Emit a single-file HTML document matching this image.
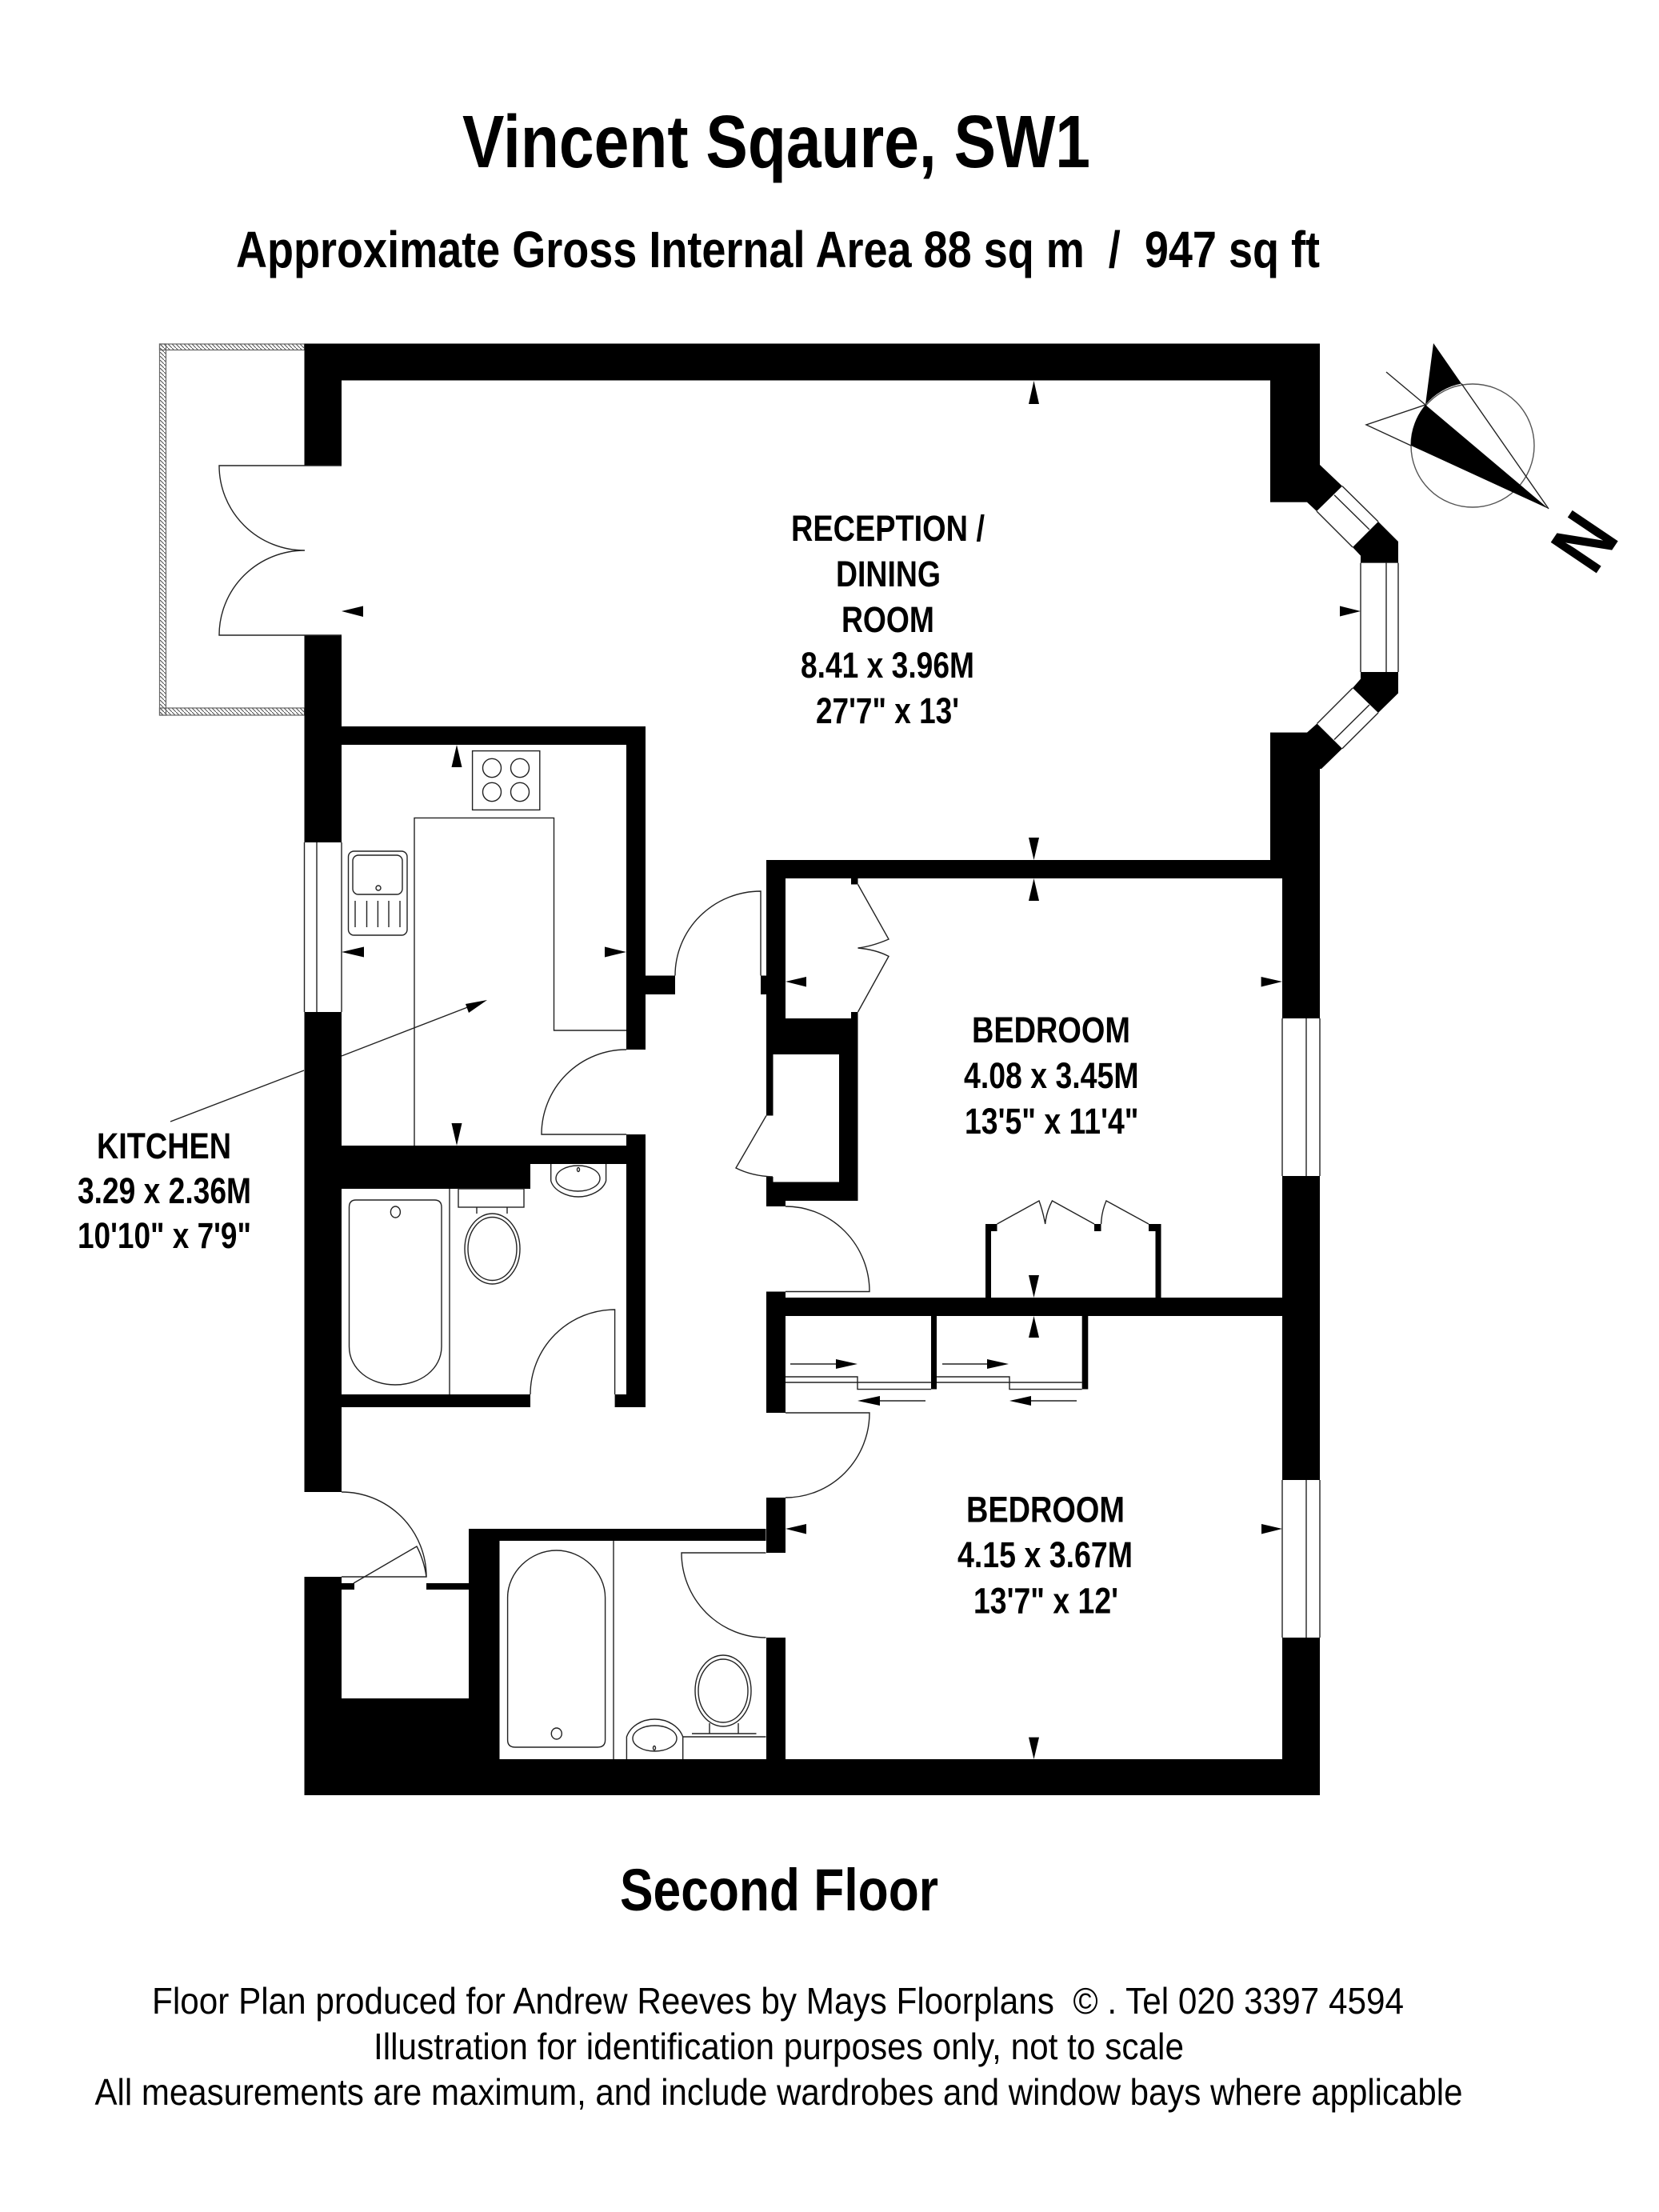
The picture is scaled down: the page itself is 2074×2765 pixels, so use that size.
<!DOCTYPE html>
<html><head><meta charset="utf-8"><title>Vincent Sqaure, SW1</title>
<style>html,body{margin:0;padding:0;background:#fff}svg{display:block}
text{font-family:"Liberation Sans",Arial,sans-serif;fill:#000}
.b{font-weight:700}
.l{fill:none;stroke:#222;stroke-width:1.4}
.g{fill:#fff;stroke:#333;stroke-width:1.3}
</style></head><body>
<svg xmlns="http://www.w3.org/2000/svg" width="2074" height="2765" viewBox="0 0 2074 2765">
<defs><pattern id="h" width="5" height="5" patternUnits="userSpaceOnUse"><path d="M-1 -1L6 6" stroke="#555" stroke-width="1.1"/></pattern></defs>
<rect width="2074" height="2765" fill="#fff"/>

<!-- headings -->
<text class="b" x="578" y="209" font-size="93" textLength="785" lengthAdjust="spacingAndGlyphs">Vincent Sqaure, SW1</text>
<text class="b" x="295" y="334" font-size="64" textLength="1355" lengthAdjust="spacingAndGlyphs" xml:space="preserve">Approximate Gross Internal Area 88 sq m  /  947 sq ft</text>

<!-- balcony -->
<g fill="url(#h)" stroke="#666" stroke-width="1.2">
<rect x="199.500" y="430" width="181" height="7.500"/>
<rect x="199.500" y="885" width="181" height="9"/>
<rect x="199.500" y="430" width="8" height="464"/>
</g>

<!-- walls -->
<g fill="#000">
<rect x="380.500" y="429.500" width="1269.500" height="46"/>
<rect x="380.500" y="429.500" width="46.500" height="152.500"/>
<rect x="380.500" y="794" width="46.500" height="259"/>
<rect x="380.500" y="1265" width="46.500" height="600"/>
<rect x="380.500" y="1971" width="46.500" height="273"/>
<rect x="380.500" y="908" width="426.500" height="23"/>
<rect x="783" y="908" width="24" height="404"/>
<rect x="783" y="1418" width="24" height="341"/>
<rect x="427" y="1432" width="356" height="23"/>
<rect x="427" y="1455" width="236" height="31"/>
<rect x="427" y="1743" width="236" height="16"/>
<rect x="768.600" y="1743" width="38.400" height="16"/>
<rect x="807" y="1219.500" width="37" height="23.500"/>
<rect x="951" y="1219.500" width="7" height="23.500"/>
<!-- bay -->
<rect x="1588" y="429.500" width="62" height="198.200"/>
<polygon points="1634,627.700 1646,639 1678,607.600 1650,581 1640,590"/>
<polygon points="1691,684 1701,694.600 1701,703.600 1748,703.600 1748,677 1723,652"/>
<polygon points="1701,840 1748,840 1748,866.500 1723,891 1691,860 1701,848.600"/>
<polygon points="1634,915.600 1646.500,904.500 1678,935.700 1652,961 1650,961 1640,940"/>
<rect x="1588" y="915.600" width="62" height="182.400"/>
<!-- right wall -->
<rect x="1603" y="1075" width="47" height="198"/>
<rect x="1603" y="1470" width="47" height="380"/>
<rect x="1603" y="2047" width="47" height="197"/>
<!-- bedroom top -->
<rect x="958" y="1075" width="645" height="23"/>
<rect x="958" y="1075" width="24" height="198"/>
<rect x="958" y="1273" width="114.500" height="45"/>
<rect x="958" y="1318" width="8.500" height="76.500"/>
<rect x="1049" y="1273" width="23.500" height="228"/>
<rect x="958" y="1477.500" width="114.500" height="23.500"/>
<rect x="958" y="1471" width="8.500" height="8"/>
<rect x="958" y="1500" width="24" height="8"/>
<rect x="1064" y="1098" width="8.500" height="7.500"/>
<rect x="1064" y="1265" width="8.500" height="8"/>
<!-- between bedrooms -->
<rect x="958" y="1622" width="645" height="23"/>
<rect x="958" y="1614.500" width="24" height="151.500"/>
<rect x="958" y="1872" width="24" height="69"/>
<rect x="958" y="2047" width="24" height="197"/>
<!-- wardrobes -->
<rect x="1232" y="1530" width="7" height="92"/>
<rect x="1232" y="1530" width="14.500" height="9"/>
<rect x="1444.500" y="1530" width="7" height="92"/>
<rect x="1436" y="1530" width="15.500" height="9"/>
<rect x="1368" y="1530" width="8.500" height="9"/>
<rect x="1164" y="1645" width="7" height="91.500"/>
<rect x="1352.700" y="1645" width="7.600" height="91.500"/>
<!-- lower -->
<rect x="586" y="1911" width="371.500" height="15"/>
<rect x="586" y="1911" width="38.500" height="333"/>
<rect x="533" y="1979" width="53" height="8"/>
<rect x="427" y="1979" width="16" height="8"/>
<rect x="380.500" y="2123" width="244" height="121"/>
<rect x="380.500" y="2199" width="1269.500" height="45"/>
</g>

<!-- windows -->
<g class="l" fill="none">
<path class="l" d="M380.500 1053V1265M396 1053V1265M427 1053V1265"/>
<path class="l" d="M1603 1273V1470M1633 1273V1470M1650 1273V1470"/>
<path class="l" d="M1603 1850V2047M1633 1850V2047M1650 1850V2047"/>
<path class="l" d="M1701 703.600V840M1733 703.600V840M1748 703.600V840"/>
<path class="l" d="M1678 607.600L1723 652M1668 618.700L1712 662M1646 639L1691 684"/>
<path class="l" d="M1678 935.700L1723 891M1668 924.500L1712 881M1646.500 904.500L1691 860"/>
</g>

<!-- doors -->
<g class="l">
<path d="M427 582H274A107 106 0 0 0 381 688M427 794H274A107 106 0 0 1 381 688"/>
<path d="M783 1418H677A106 106 0 0 1 783 1312"/>
<path d="M844 1219.500A107 105.500 0 0 1 951 1114V1219.500"/>
<path d="M663 1743A105.600 106 0 0 1 768.600 1637V1743"/>
<path d="M982 1508A105 106.500 0 0 1 1087 1614.500H982"/>
<path d="M982 1766H1087A105 106 0 0 1 982 1872"/>
<path d="M957.500 1941H852A105.500 106 0 0 0 957.500 2047"/>
<path d="M427 1865A106 106 0 0 1 533 1971H427"/>
<path d="M442 1979L521 1933Q530 1950 533 1971"/>
<path d="M958 1394.500L920 1460Q940 1470 966 1471"/>
<path d="M1072.500 1105.500L1111 1174Q1090 1183 1072.500 1185Q1095 1187 1111 1195.400L1072.500 1265"/>
<path d="M1246.500 1530L1299 1501Q1304 1515 1306.700 1530Q1308 1515 1315.400 1501L1368 1530"/>
<path d="M1376.600 1530Q1377 1515 1383 1501L1436 1530"/>
<!-- sliding -->
<path d="M982 1721H1072V1736.600H1164M982 1728H1164"/>
<path d="M1171 1721H1262V1736.600H1352.700M1171 1728H1352.700"/>
<path d="M988 1705H1050M1178 1705H1240M1100 1751H1157M1289 1751H1346"/>
<!-- kitchen -->
<rect x="590.600" y="938.600" width="84.200" height="73.800"/>
<ellipse cx="615" cy="960" rx="11.500" ry="11.700"/><ellipse cx="650" cy="960" rx="11.500" ry="11.700"/>
<ellipse cx="615" cy="990" rx="11.500" ry="11.700"/><ellipse cx="650" cy="990" rx="11.500" ry="11.700"/>
<path d="M518 1432V1022.400H692.500V1288H783"/>
<rect x="435.500" y="1064" width="73.500" height="105" rx="7"/>
<rect x="441" y="1069" width="62" height="49" rx="7"/>
<circle cx="473" cy="1110" r="3"/>
<path d="M444 1126V1159M458.500 1126V1159M472.400 1126V1159M486 1126V1159M500 1126V1159"/>
<path d="M213 1402L380 1338M427 1320L595 1255"/>
<!-- bath 1 -->
<path d="M562 1486V1743"/>
<path d="M445 1500H543Q552 1500 552 1509V1683C552 1712 525 1731 494 1731C463 1731 436.500 1712 436.500 1683V1509Q436.500 1500 445 1500Z"/>
<ellipse cx="494.400" cy="1515" rx="6" ry="7"/>
<rect x="573" y="1486" width="82" height="23"/>
<path d="M596 1509V1517M634 1509V1517"/>
<ellipse cx="615.500" cy="1561" rx="34.500" ry="44"/>
<ellipse cx="615.500" cy="1561" rx="30.500" ry="39.500"/>
<path d="M688.700 1455V1476C692 1488 708 1496 723 1496C738 1496 754 1488 757.600 1476V1455"/>
<ellipse cx="722.500" cy="1473" rx="27.500" ry="16"/>
<ellipse cx="723" cy="1462" rx="1.500" ry="2.500"/>
<!-- bath 2 -->
<path d="M767 1926V2199"/>
<path d="M644 2184H747Q756.600 2184 756.600 2175V1997C756.600 1965 728 1938 695.600 1938C663 1938 634.600 1965 634.600 1997V2175Q634.600 2184 644 2184Z"/>
<ellipse cx="695.800" cy="2167" rx="6.500" ry="7"/>
<path d="M783.400 2199V2171C788 2158 802 2149 818.500 2149C835 2149 849 2158 853.700 2171V2199"/>
<ellipse cx="818.500" cy="2173" rx="27.500" ry="16"/>
<ellipse cx="818" cy="2185" rx="1.500" ry="2.500"/>
<path d="M854 2171H957.500M865 2167H945.500M887 2154V2167M923 2154V2167"/>
<ellipse cx="904" cy="2113.500" rx="35" ry="44.500"/>
<ellipse cx="904" cy="2113.500" rx="31" ry="39.500"/>
<!-- compass -->
<circle cx="1841" cy="557" r="77" stroke="#555"/>
<path d="M1733 465L1782 506L1708 531L1764 557M1827 479.500L1936 636"/>
</g>
<g fill="#000">
<path d="M1792 429L1827 479.500A77 77 0 0 0 1782 506Z"/>
<path d="M1782 506L1936 636L1764 557A77 77 0 0 1 1782 506Z"/>
<!-- dimension arrows -->
<polygon points="427,764 454,757.500 454,771"/>
<polygon points="1292.500,476 1286,505 1299,505"/>
<polygon points="1292.500,1075 1286,1047 1299,1047"/>
<polygon points="1701,764 1675,757.500 1675,770.500"/>
<polygon points="571,931 564.500,959 577.500,959"/>
<polygon points="427,1190 455,1183.500 455,1196.500"/>
<polygon points="783,1190 756,1183.500 756,1196.500"/>
<polygon points="571,1432 564.500,1404 577.500,1404"/>
<polygon points="1292.500,1098 1286,1126 1299,1126"/>
<polygon points="982,1227 1008,1221 1008,1233.500"/>
<polygon points="1603,1227 1576.600,1221 1576.600,1233.500"/>
<polygon points="1292.500,1622 1286,1594 1299,1594"/>
<polygon points="1292.500,1645 1286,1672 1299,1672"/>
<polygon points="982,1911 1008,1905 1008,1917.500"/>
<polygon points="1603,1911 1577,1905 1577,1917.500"/>
<polygon points="1292.500,2199 1286,2171.600 1299,2171.600"/>
<polygon points="1072,1705 1045,1699 1045,1711"/>
<polygon points="1261,1705 1234,1699 1234,1711"/>
<polygon points="1072,1751 1100,1745 1100,1757"/>
<polygon points="1262,1751 1289,1745 1289,1757"/>
<polygon points="609,1250 582,1255 586,1266"/>
</g>
<text class="b" transform="translate(1982,678) rotate(124) scale(.82,1)" x="0" y="36" font-size="100" text-anchor="middle">N</text>

<!-- room labels -->
<g class="b" font-size="45">
<text class="b" x="989" y="676" textLength="242" lengthAdjust="spacingAndGlyphs">RECEPTION /</text>
<text class="b" x="1045" y="733" textLength="131" lengthAdjust="spacingAndGlyphs">DINING</text>
<text class="b" x="1052" y="790" textLength="116" lengthAdjust="spacingAndGlyphs">ROOM</text>
<text class="b" x="1001" y="847" textLength="217" lengthAdjust="spacingAndGlyphs">8.41 x 3.96M</text>
<text class="b" x="1020" y="904" textLength="179" lengthAdjust="spacingAndGlyphs">27'7" x 13'</text>
<text class="b" x="121" y="1448" textLength="168" lengthAdjust="spacingAndGlyphs">KITCHEN</text>
<text class="b" x="97" y="1504" textLength="217" lengthAdjust="spacingAndGlyphs">3.29 x 2.36M</text>
<text class="b" x="97" y="1560" textLength="217" lengthAdjust="spacingAndGlyphs">10'10" x 7'9"</text>
<text class="b" x="1215" y="1303" textLength="198" lengthAdjust="spacingAndGlyphs">BEDROOM</text>
<text class="b" x="1205" y="1360" textLength="218.500" lengthAdjust="spacingAndGlyphs">4.08 x 3.45M</text>
<text class="b" x="1206" y="1417" textLength="217.500" lengthAdjust="spacingAndGlyphs">13'5" x 11'4"</text>
<text class="b" x="1208" y="1902.500" textLength="198" lengthAdjust="spacingAndGlyphs">BEDROOM</text>
<text class="b" x="1197" y="1959" textLength="219" lengthAdjust="spacingAndGlyphs">4.15 x 3.67M</text>
<text class="b" x="1217" y="2016.500" textLength="181" lengthAdjust="spacingAndGlyphs">13'7" x 12'</text>
</g>

<!-- footer -->
<text class="b" x="775" y="2388" font-size="74" textLength="398" lengthAdjust="spacingAndGlyphs">Second Floor</text>
<g font-size="46">
<text x="190" y="2517" textLength="1565" lengthAdjust="spacingAndGlyphs" xml:space="preserve">Floor Plan produced for Andrew Reeves by Mays Floorplans  © . Tel 020 3397 4594</text>
<text x="467" y="2574" textLength="1013" lengthAdjust="spacingAndGlyphs">Illustration for identification purposes only, not to scale</text>
<text x="118.500" y="2631" textLength="1710" lengthAdjust="spacingAndGlyphs">All measurements are maximum, and include wardrobes and window bays where applicable</text>
</g>
</svg>
</body></html>
